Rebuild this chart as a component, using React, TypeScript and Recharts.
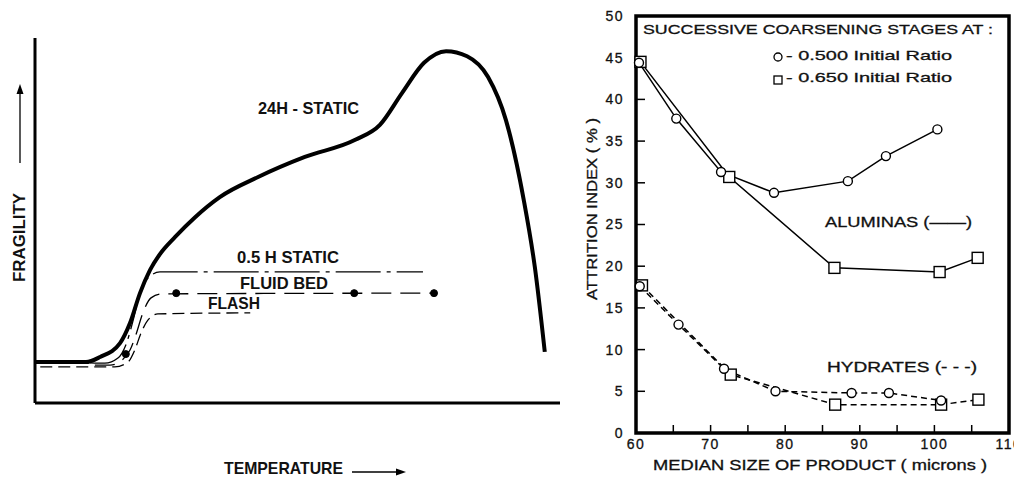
import React from "react";
import { ComposedChart, Line, XAxis, YAxis, ReferenceArea } from "recharts";

const FONT = "'Liberation Sans', Arial, sans-serif";

// left panel: schematic curves, values in % of the axis length
const static24X = [0, 9.7, 12.4, 16.2, 18.1, 20.0, 21.9, 23.8, 26.7, 30.5, 35.2, 42.5, 51.4, 61.0, 65.7, 69.9, 74.1, 78.3, 82.3, 86.3, 89.7, 93.1, 95.2, 97.1];
const static24 = [11.2, 11.2, 12.6, 16.4, 21.9, 30.1, 36.4, 40.8, 45.5, 50.9, 56.4, 61.9, 67.4, 72.1, 76.2, 84.9, 93.2, 96.4, 95.0, 89.3, 77.5, 55.6, 37.3, 14.0];
const static05X = [10.5, 13.3, 15.8, 17.3, 18.7, 20.0, 21.5, 23.8, 73.9];
const static05 = [11.0, 10.9, 12.3, 15.9, 22.7, 30.4, 34.2, 35.9, 35.9];
const fluidBedX = [11.4, 14.3, 16.6, 18.1, 19.2, 20.6, 22.1, 24.2, 75.8];
const fluidBed = [10.4, 10.4, 11.8, 14.5, 18.6, 24.9, 28.8, 29.9, 30.1];
const fluidDotsX = [17.3, 26.9, 60.8, 76.0];
const fluidDots = [13.4, 30.1, 30.1, 30.1];
const flashX = [1, 15.2, 17.7, 19.0, 20.2, 21.5, 23.4, 41.0];
const flash = [9.9, 9.9, 11.2, 14.5, 19.2, 22.7, 24.4, 24.7];

// right panel: attrition index vs median size
const alumina500X = [60.4, 65.4, 71.4, 78.5, 88.4, 93.5, 100.4];
const alumina500 = [44.4, 37.7, 31.3, 28.8, 30.2, 33.2, 36.4];
const alumina650X = [60.6, 72.5, 86.6, 100.7, 105.8];
const alumina650 = [44.5, 30.7, 19.8, 19.3, 21.0];
const hydrate500X = [60.5, 65.7, 71.8, 78.7, 88.9, 93.9, 100.9];
const hydrate500 = [17.6, 13.0, 7.7, 5.0, 4.8, 4.8, 3.9];
const hydrate650X = [60.8, 72.7, 86.7, 100.9, 105.9];
const hydrate650 = [17.7, 7.0, 3.4, 3.4, 4.0];

const xTicks = [60, 65, 70, 75, 80, 85, 90, 95, 100, 105, 110];
const xTickLabels = ["60", "", "70", "", "80", "", "90", "", "100", "", "110"];
const yTicks = [0, 5, 10, 15, 20, 25, 30, 35, 40, 45, 50];

const pts = (xs: number[], ys: number[]) => xs.map((x, i) => ({ x, y: ys[i] }));

const SquareDot = (props: any) => {
  const { cx, cy, index } = props;
  if (cx == null || cy == null) return <g key={`e-${index}`} />;
  return (
    <rect key={`sq-${index}`} x={cx - 5.5} y={cy - 5.5} width={11} height={11}
      fill="#fff" stroke="#000" strokeWidth={1.4} strokeDasharray="none" />
  );
};

const circleDot = { r: 4.5, fill: "#fff", stroke: "#000", strokeWidth: 1.4, strokeDasharray: "none" };
const tickStyle = { fontSize: 14, fill: "#111", fontFamily: FONT, letterSpacing: 1.5, stroke: "#111", strokeWidth: 0.3 };

function Txt({ x, y, w, size, bold, children }: any) {
  return (
    <text x={x} y={y} fontSize={size} fontWeight={bold ? "bold" : "normal"} fontFamily={FONT}
      fill="#111" stroke={bold ? "none" : "#111"} strokeWidth={bold ? 0 : 0.3}
      textLength={w} lengthAdjust="spacingAndGlyphs">
      {children}
    </text>
  );
}

function FragilityChart() {
  return (
    <ComposedChart width={580} height={478} margin={{ top: 38, right: 20, bottom: 45, left: 5 }}>
      <XAxis type="number" dataKey="x" domain={[0, 100]} height={30} tick={false} tickLine={false}
        axisLine={{ stroke: "#000", strokeWidth: 3 }} />
      <YAxis type="number" domain={[0, 100]} width={30} tick={false} tickLine={false}
        axisLine={{ stroke: "#000", strokeWidth: 3 }} />
      <Line data={pts(flashX, flash)} dataKey="y" type="monotone" stroke="#000" strokeWidth={1.3}
        strokeDasharray="12 6" dot={false} isAnimationActive={false} />
      <Line data={pts(fluidBedX, fluidBed)} dataKey="y" type="monotone" stroke="#000" strokeWidth={1.3}
        strokeDasharray="20 9" dot={false} isAnimationActive={false} />
      <Line data={pts(fluidDotsX, fluidDots)} dataKey="y" stroke="none"
        dot={{ r: 3.5, fill: "#000", stroke: "#000" }} isAnimationActive={false} />
      <Line data={pts(static05X, static05)} dataKey="y" type="monotone" stroke="#000" strokeWidth={1.3}
        strokeDasharray="45 6 4 6" dot={false} isAnimationActive={false} />
      <Line data={pts(static24X, static24)} dataKey="y" type="monotone" stroke="#000" strokeWidth={4}
        dot={false} isAnimationActive={false} />
    </ComposedChart>
  );
}

function AttritionChart() {
  return (
    <ComposedChart width={434} height={478} margin={{ top: 16, right: 0, bottom: 15, left: 6 }}>
      <XAxis type="number" dataKey="x" domain={[60, 110]} ticks={xTicks} interval={0}
        tickFormatter={(v: number, i: number) => xTickLabels[i]} height={30}
        tickSize={-8} tickMargin={14} axisLine={false}
        tickLine={{ stroke: "#000", strokeWidth: 1.5 }} tick={tickStyle} />
      <YAxis yAxisId="a" type="number" domain={[0, 50]} ticks={yTicks} interval={0} width={50}
        tickSize={-9} tickMargin={21} axisLine={false}
        tickLine={{ stroke: "#000", strokeWidth: 1.5 }} tick={tickStyle} />
      <YAxis yAxisId="b" orientation="right" type="number" domain={[0, 50]} ticks={yTicks} interval={0}
        width={5} tickSize={-10} axisLine={false} tick={false}
        tickLine={{ stroke: "#000", strokeWidth: 1.5 }} />
      <ReferenceArea yAxisId="a" x1={60} x2={110} y1={0} y2={50} fill="none" stroke="#000" strokeWidth={3.5} />
      <Line yAxisId="a" data={pts(hydrate650X, hydrate650)} dataKey="y" stroke="#000" strokeWidth={1.5}
        strokeDasharray="6 4" dot={SquareDot} isAnimationActive={false} />
      <Line yAxisId="a" data={pts(hydrate500X, hydrate500)} dataKey="y" stroke="#000" strokeWidth={1.5}
        strokeDasharray="6 4" dot={circleDot} isAnimationActive={false} />
      <Line yAxisId="a" data={pts(alumina650X, alumina650)} dataKey="y" stroke="#000" strokeWidth={1.5}
        dot={SquareDot} isAnimationActive={false} />
      <Line yAxisId="a" data={pts(alumina500X, alumina500)} dataKey="y" stroke="#000" strokeWidth={1.5}
        dot={circleDot} isAnimationActive={false} />
    </ComposedChart>
  );
}

export default function App() {
  return (
    <div style={{ position: "absolute", left: 0, top: 0, width: 1014, height: 478, background: "#fff", fontFamily: FONT }}>
      <div style={{ position: "absolute", left: 0, top: 0 }}>
        <FragilityChart />
      </div>
      <div style={{ position: "absolute", left: 580, top: 0 }}>
        <AttritionChart />
      </div>
      <svg width={1014} height={478} style={{ position: "absolute", left: 0, top: 0, pointerEvents: "none" }}>
        {/* left panel labels */}
        <Txt x={258} y={114} w={101} size={17} bold>24H - STATIC</Txt>
        <Txt x={237} y={263} w={102} size={17} bold>0.5 H STATIC</Txt>
        <Txt x={240} y={289} w={88} size={17} bold>FLUID BED</Txt>
        <Txt x={208} y={309} w={52} size={17} bold>FLASH</Txt>
        <Txt x={224} y={474} w={119} size={17} bold>TEMPERATURE</Txt>
        <g transform="translate(25, 282) rotate(-90)">
          <Txt x={0} y={0} w={89} size={16} bold>FRAGILITY</Txt>
        </g>
        <line x1={20} y1={163} x2={20} y2={92} stroke="#000" strokeWidth={1.3} />
        <polygon points="20,84 16.5,94 23.5,94" fill="#000" />
        <line x1={352} y1={472} x2={398} y2={472} stroke="#000" strokeWidth={1.3} />
        <polygon points="406,472 396,468.5 396,475.5" fill="#000" />

        {/* right panel labels */}
        <Txt x={643} y={34} w={350} size={13}>SUCCESSIVE COARSENING STAGES AT :</Txt>
        <circle cx={778} cy={57} r={4} fill="#fff" stroke="#000" strokeWidth={1.3} />
        <Txt x={786} y={60} w={166} size={13}>- 0.500 Initial Ratio</Txt>
        <rect x={774} y={76} width={8} height={8} fill="#fff" stroke="#000" strokeWidth={1.3} />
        <Txt x={786} y={82} w={166} size={13}>- 0.650 Initial Ratio</Txt>
        <Txt x={825} y={227} w={147} size={14}>ALUMINAS (——)</Txt>
        <Txt x={827} y={372} w={150} size={14}>HYDRATES (- - -)</Txt>
        <Txt x={653} y={470} w={334} size={14}>MEDIAN SIZE OF PRODUCT ( microns )</Txt>
        <g transform="translate(597, 300) rotate(-90)">
          <Txt x={0} y={0} w={182} size={14}>ATTRITION INDEX ( % )</Txt>
        </g>
      </svg>
    </div>
  );
}
